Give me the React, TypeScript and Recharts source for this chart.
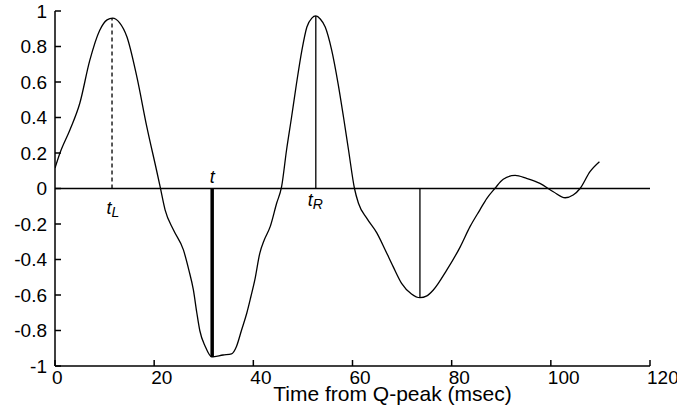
import { ComposedChart, Line, XAxis, YAxis, ReferenceLine } from 'recharts';

// signal samples
const timeMs = [
  0, 1, 3, 5, 7, 9, 10.5, 11.6, 13, 14.5, 16.5, 18.5, 20.5, 21.2, 22.2, 23.9,
  25.9, 27, 27.9, 28.6, 29.2, 30.3, 31.6, 33.9, 35.6, 36.6, 37.6, 38.7, 39.5,
  40.3, 41.3, 42.2, 43.4, 44.7, 45.7, 46.7, 47.7, 48.7, 49.8, 50.8, 51.8, 52.6,
  53.5, 54.5, 55.8, 57.1, 58.2, 59.2, 60.4, 61.2, 62.9, 64.9, 66.6, 68.2, 69.9,
  71.9, 73.6, 75, 76.3, 79, 81.7, 83.7, 85.7, 87.1, 88.7, 90.4, 92.8, 95.1, 97.8,
  100.5, 102.9, 104.5, 105.9, 107.9, 109.8,
];
const amplitude = [
  0.115, 0.2, 0.33, 0.48, 0.72, 0.89, 0.95, 0.96, 0.935, 0.855, 0.63, 0.35, 0.1,
  0.01, -0.12, -0.234, -0.346, -0.46, -0.57, -0.7, -0.8, -0.89, -0.948, -0.938,
  -0.932, -0.89, -0.8, -0.7, -0.61, -0.515, -0.365, -0.29, -0.215, -0.083, 0.01,
  0.217, 0.4, 0.59, 0.78, 0.91, 0.96, 0.972, 0.955, 0.91, 0.78, 0.59, 0.4, 0.217,
  0, -0.083, -0.168, -0.25, -0.346, -0.44, -0.534, -0.594, -0.615, -0.605,
  -0.572, -0.46, -0.33, -0.215, -0.12, -0.055, 0, 0.052, 0.074, 0.057, 0.029,
  -0.018, -0.052, -0.037, 0, 0.095, 0.151,
];

const xTicks = [0, 20, 40, 60, 80, 100, 120];
const yTicks = [-1, -0.8, -0.6, -0.4, -0.2, 0, 0.2, 0.4, 0.6, 0.8, 1];

// drop lines from the zero line to the extrema: tL, t, tR, last trough
const markerTimes = [11.5, 31.7, 52.6, 73.6];
const markerValues = [0.96, -0.95, 0.972, -0.615];

const FONT = '"Liberation Sans", Arial, Helvetica, sans-serif';

const data = timeMs.map((t, i) => ({ time: t, amp: amplitude[i] }));

function XTick({ x, y, payload }: any) {
  return (
    <text x={x - 3} y={y} dy={13} textAnchor="start" fontSize={19} fill="#000" fontFamily={FONT}>
      {payload.value}
    </text>
  );
}

function YTick({ x, y, payload }: any) {
  return (
    <text x={x} y={y} dy="0.355em" textAnchor="end" fontSize={19} fill="#000" fontFamily={FONT}>
      {payload.value}
    </text>
  );
}

function MarkLabel({ viewBox, main, sub, below, dx, dy }: any) {
  if (!viewBox) return null;
  const zeroY = below ? viewBox.y + viewBox.height : viewBox.y;
  return (
    <text
      x={viewBox.x + dx}
      y={zeroY + dy}
      textAnchor={sub ? 'start' : 'middle'}
      fontSize={18}
      fontStyle="italic"
      fill="#000"
      fontFamily={FONT}
    >
      <tspan>{main}</tspan>
      {sub && (
        <tspan fontSize={14} dy={3}>
          {sub}
        </tspan>
      )}
    </text>
  );
}

export default function App() {
  return (
    <div style={{ position: 'absolute', left: 0, top: 0, background: '#fff', fontFamily: FONT }}>
      <ComposedChart
        width={677}
        height={414}
        data={data}
        margin={{ top: 11, right: 27, bottom: 8, left: 5 }}
      >
        <XAxis
          dataKey="time"
          type="number"
          domain={[0, 120]}
          ticks={xTicks}
          allowDataOverflow
          height={40}
          stroke="#000"
          strokeWidth={1.5}
          tickSize={-6}
          tickMargin={11}
          tick={<XTick />}
          label={{
            content: ({ viewBox }: any) => (
              <text
                x={viewBox.x + viewBox.width / 2 + 40}
                y={viewBox.y + viewBox.height - 5}
                textAnchor="middle"
                fontSize={21}
                fill="#000"
                fontFamily={FONT}
              >
                Time from Q-peak (msec)
              </text>
            ),
          }}
        />
        <XAxis
          xAxisId="top"
          orientation="top"
          dataKey="time"
          type="number"
          domain={[0, 120]}
          ticks={xTicks}
          allowDataOverflow
          height={0}
          stroke="#000"
          strokeWidth={1.5}
          tickSize={-6}
          tick={false}
        />
        <YAxis
          type="number"
          domain={[-1, 1]}
          ticks={yTicks}
          allowDataOverflow
          width={50}
          stroke="#000"
          strokeWidth={1.5}
          tickSize={-6}
          tickMargin={14}
          tick={<YTick />}
        />
        <YAxis
          yAxisId="right"
          orientation="right"
          type="number"
          domain={[-1, 1]}
          ticks={yTicks}
          allowDataOverflow
          width={0}
          stroke="#000"
          strokeWidth={1.5}
          tickSize={-6}
          tick={false}
        />
        <ReferenceLine y={0} stroke="#000" strokeWidth={1.3} />
        <ReferenceLine
          segment={[
            { x: markerTimes[0], y: 0 },
            { x: markerTimes[0], y: markerValues[0] },
          ]}
          stroke="#000"
          strokeWidth={1.3}
          strokeDasharray="4 3"
          label={<MarkLabel main="t" sub="L" below dx={-5.5} dy={25.5} />}
        />
        <ReferenceLine
          segment={[
            { x: markerTimes[1], y: 0 },
            { x: markerTimes[1], y: markerValues[1] },
          ]}
          stroke="#000"
          strokeWidth={3.5}
          label={<MarkLabel main="t" dx={0} dy={-5.5} />}
        />
        <ReferenceLine
          segment={[
            { x: markerTimes[2], y: 0 },
            { x: markerTimes[2], y: markerValues[2] },
          ]}
          stroke="#000"
          strokeWidth={1.3}
          label={<MarkLabel main="t" sub="R" below dx={-8} dy={17.5} />}
        />
        <ReferenceLine
          segment={[
            { x: markerTimes[3], y: 0 },
            { x: markerTimes[3], y: markerValues[3] },
          ]}
          stroke="#000"
          strokeWidth={1.3}
        />
        <Line
          type="monotone"
          dataKey="amp"
          stroke="#000"
          strokeWidth={1.3}
          dot={false}
          isAnimationActive={false}
        />
      </ComposedChart>
    </div>
  );
}
